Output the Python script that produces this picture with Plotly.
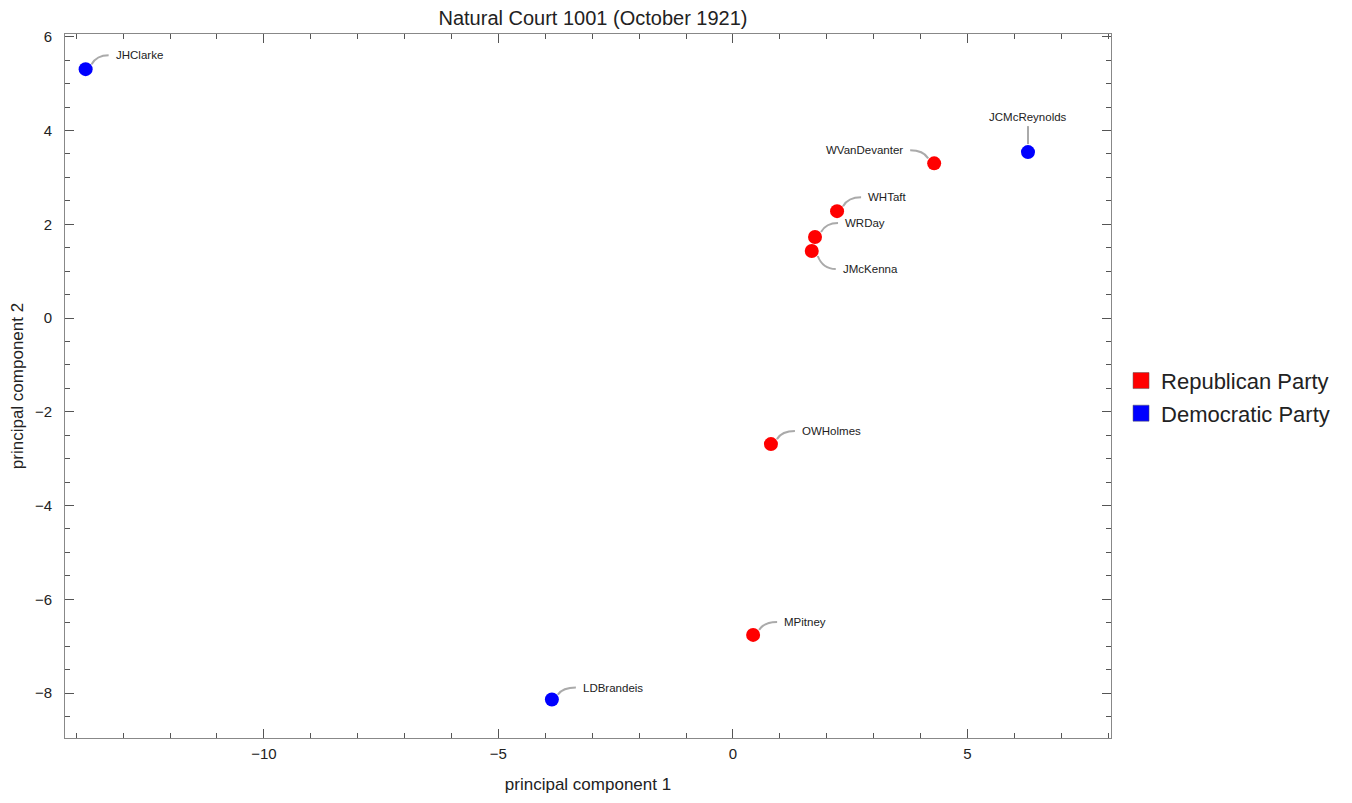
import plotly.graph_objects as go

names = ["JHClarke", "JCMcReynolds", "WVanDevanter", "WHTaft", "WRDay",
         "JMcKenna", "OWHolmes", "MPitney", "LDBrandeis"]
pc1 = [-13.8, 6.29, 4.29, 2.22, 1.75, 1.68, 0.81, 0.43, -3.86]
pc2 = [5.31, 3.54, 3.30, 2.28, 1.73, 1.43, -2.69, -6.76, -8.14]
party = ["Democratic Party", "Democratic Party", "Republican Party", "Republican Party",
         "Republican Party", "Republican Party", "Republican Party", "Republican Party",
         "Democratic Party"]
party_order = ["Republican Party", "Democratic Party"]
party_colors = {"Republican Party": "#ff0000", "Democratic Party": "#0000ff"}
# label placement: pixel offsets of the label from its point (dy positive = up)
label_dx = [28, 0, -29, 29, 28, 29, 29, 29, 29]
label_dy = [14, 35, 13, 14, 14, -18, 13, 13, 12]
label_anchor = ["left", "center", "right", "left", "left", "left", "left", "left", "left"]

fig = go.Figure()
for p in party_order:
    idx = [i for i, q in enumerate(party) if q == p]
    fig.add_trace(go.Scatter(
        x=[pc1[i] for i in idx], y=[pc2[i] for i in idx], mode="markers",
        marker=dict(color=party_colors[p], size=14, line=dict(width=0)),
        showlegend=False, name=p, hoverinfo="text", text=[names[i] for i in idx]))
for p in party_order:
    fig.add_trace(go.Scatter(
        x=[None], y=[None], mode="markers", name=p, legendgroup=p,
        marker=dict(color=party_colors[p], symbol="square", size=18,
                    line=dict(width=0.5, color="#555555"))))


def leader_path(dx, dy, anchor):
    if anchor == "center":
        s = 1 if dy > 0 else -1
        return f"M 0 {8*s} L 0 {dy - 9*s}"
    sx = 1 if anchor == "left" else -1
    sy = 1 if dy > 0 else -1
    end_x = dx - 5 * sx
    return (f"M {6*sx} {5*sy} Q {11*sx} {dy} {end_x} {dy}")


for i, n in enumerate(names):
    fig.add_shape(
        type="path", xref="x", yref="y", xsizemode="pixel", ysizemode="pixel",
        xanchor=pc1[i], yanchor=pc2[i],
        path=leader_path(label_dx[i], label_dy[i], label_anchor[i]),
        line=dict(color="#aaaaaa", width=2), layer="below")
    fig.add_annotation(
        x=pc1[i], y=pc2[i], text=n, showarrow=False,
        xshift=label_dx[i], yshift=label_dy[i],
        xanchor=label_anchor[i], yanchor="middle",
        font=dict(family="Liberation Sans, Arial", size=11.5, color="#222222"))

axis_common = dict(
    showgrid=False, zeroline=False, showline=True, linecolor="#888888", linewidth=1,
    mirror="ticks", ticks="inside", ticklen=9, tickcolor="#555555", tickwidth=1,
    automargin=False,
    tickfont=dict(family="Liberation Sans, Arial", size=15, color="#222222"),
    title_font=dict(family="Liberation Sans, Arial", size=17, color="#222222"),
)
fig.update_xaxes(**axis_common, range=[-14.24, 8.06], dtick=5, tick0=0,
                 ticklabelstandoff=2,
                 minor=dict(dtick=1, ticks="inside", ticklen=5, tickcolor="#555555"),
                 title_text="principal component 1", title_standoff=17)
fig.update_yaxes(**axis_common, range=[-8.96, 6.06], dtick=2, tick0=0,
                 ticklabelstandoff=9,
                 minor=dict(dtick=0.5, ticks="inside", ticklen=5, tickcolor="#555555"),
                 title_text="principal component 2", title_standoff=14)

fig.update_layout(
    width=1352, height=803,
    margin=dict(l=57, r=249, t=26, b=73),
    plot_bgcolor="white", paper_bgcolor="white",
    title=dict(text="Natural Court 1001 (October 1921)", x=0.4327, xanchor="center",
               y=0.996, yanchor="top", pad=dict(t=0, b=0),
               font=dict(family="Liberation Sans, Arial", size=20, color="#222222")),
    legend=dict(x=1.0096, xanchor="left", y=0.484, yanchor="middle",
                font=dict(family="Liberation Sans, Arial", size=22, color="#222222"),
                itemsizing="trace", tracegroupgap=1, bgcolor="rgba(0,0,0,0)"),
    font=dict(family="Liberation Sans, Arial"),
)

fig.write_html("out.html")
